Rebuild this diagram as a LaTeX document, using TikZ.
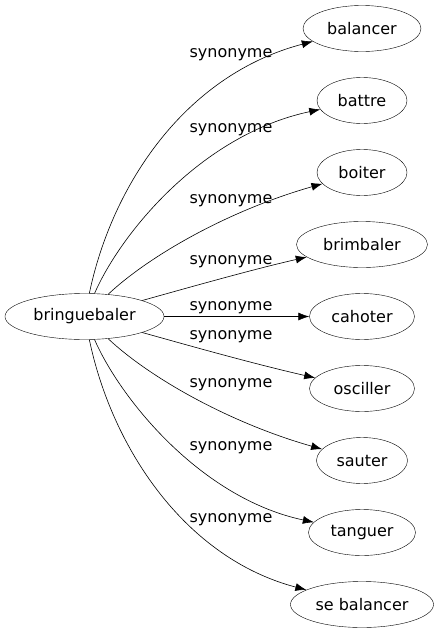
\documentclass[tikz,border=0pt]{standalone}
\usepackage{fontspec}
\setmainfont{DejaVu Sans}
\usetikzlibrary{shapes.geometric,arrows.meta}

\begin{document}
\begin{tikzpicture}[x=1pt, y=1pt,
    word/.style={draw, ellipse, inner sep=0pt, minimum height=46pt, font=\fontsize{16}{19}\selectfont},
    syn/.style={font=\fontsize{16}{19}\selectfont, inner sep=0pt},
    link/.style={-{Latex[length=11pt, width=8pt]}, line width=0.6pt}]
    \useasboundingbox (0,0) rectangle (439,-635);
    % Central word and its synonyms
    \node[word, minimum width=159pt] (bringuebaler) at (84.5,-316.5) {bringuebaler};
    \node[word, minimum width=118pt] (balancer) at (362,-28.5) {balancer};
    \node[word, minimum width=90pt] (battre) at (362,-100.5) {battre};
    \node[word, minimum width=90pt] (boiter) at (362,-172.5) {boiter};
    \node[word, minimum width=131pt] (brimbaler) at (362,-244.5) {brimbaler};
    \node[word, minimum width=105pt] (cahoter) at (362,-316.5) {cahoter};
    \node[word, minimum width=105pt] (osciller) at (362,-388.5) {osciller};
    \node[word, minimum width=91pt] (sauter) at (362,-460.5) {sauter};
    \node[word, minimum width=107pt] (tanguer) at (362,-532.5) {tanguer};
    \node[word, minimum width=143pt] (sebalancer) at (362,-604.5) {se balancer};
    % Edge labels
    \node[syn] (syn1) at (231,-55) {synonyme};
    \node[syn] (syn2) at (231,-130) {synonyme};
    \node[syn] (syn3) at (231,-201) {synonyme};
    \node[syn] (syn4) at (231,-262) {synonyme};
    \node[syn] (syn5) at (231,-308) {synonyme};
    \node[syn] (syn6) at (231,-337) {synonyme};
    \node[syn] (syn7) at (231,-385) {synonyme};
    \node[syn] (syn8) at (231,-448) {synonyme};
    \node[syn] (syn9) at (231,-520) {synonyme};
    % Edges
    \draw[link] (bringuebaler) .. controls (112,-185) and (185,-75) .. (balancer);
    \draw[link] (bringuebaler) .. controls (120,-235) and (200,-135) .. (battre);
    \draw[link] (bringuebaler) .. controls (150,-255) and (230,-210) .. (boiter);
    \draw[link] (bringuebaler) .. controls (180,-290) and (250,-270) .. (brimbaler);
    \draw[link] (bringuebaler) -- (cahoter);
    \draw[link] (bringuebaler) .. controls (180,-343) and (250,-363) .. (osciller);
    \draw[link] (bringuebaler) .. controls (150,-378) and (230,-423) .. (sauter);
    \draw[link] (bringuebaler) .. controls (120,-398) and (200,-498) .. (tanguer);
    \draw[link] (bringuebaler) .. controls (112,-448) and (185,-558) .. (sebalancer);
\end{tikzpicture}
\end{document}
